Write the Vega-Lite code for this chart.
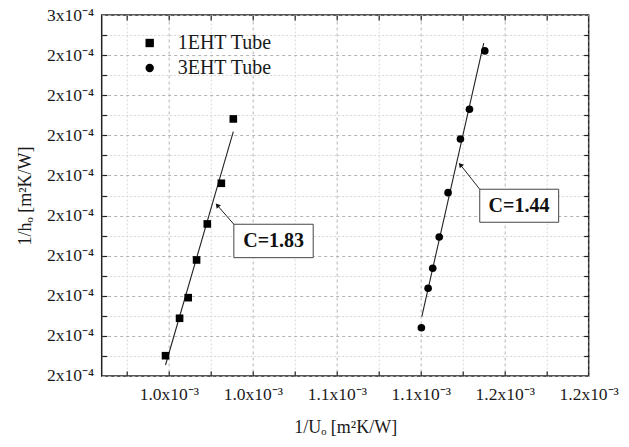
{
  "$schema": "https://vega.github.io/schema/vega-lite/v6.json",
  "width": 487,
  "height": 361,
  "autosize": {"type": "none"},
  "padding": {"left": 101.7, "top": 15, "right": 40, "bottom": 71},
  "background": "white",
  "config": {
    "view": {"stroke": "#222", "strokeWidth": 1.5},
    "axis": {"labelFont": "Liberation Serif", "titleFont": "Liberation Serif", "labelColor": "#1a1a1a", "titleColor": "#1a1a1a", "titleFontWeight": "normal"},
    "legend": {"labelFont": "Liberation Serif", "labelColor": "#1a1a1a"}
  },
  "datasets": {
    "points": [
      {"series": "1EHT Tube", "invU": 0.0010307, "invH": 0.00022409},
      {"series": "1EHT Tube", "invU": 0.0010250, "invH": 0.00020805},
      {"series": "1EHT Tube", "invU": 0.0010183, "invH": 0.00019791},
      {"series": "1EHT Tube", "invU": 0.0010132, "invH": 0.00018893},
      {"series": "1EHT Tube", "invU": 0.0010092, "invH": 0.00017953},
      {"series": "1EHT Tube", "invU": 0.0010051, "invH": 0.00017439},
      {"series": "1EHT Tube", "invU": 0.0009984, "invH": 0.00016506},
      {"series": "3EHT Tube", "invU": 0.0011505, "invH": 0.00024105},
      {"series": "3EHT Tube", "invU": 0.0011432, "invH": 0.00022651},
      {"series": "3EHT Tube", "invU": 0.0011389, "invH": 0.00021910},
      {"series": "3EHT Tube", "invU": 0.0011330, "invH": 0.00020571},
      {"series": "3EHT Tube", "invU": 0.0011288, "invH": 0.00019466},
      {"series": "3EHT Tube", "invU": 0.0011257, "invH": 0.00018686},
      {"series": "3EHT Tube", "invU": 0.0011235, "invH": 0.00018187},
      {"series": "3EHT Tube", "invU": 0.0011203, "invH": 0.00017204}
    ],
    "fits": [
      {"series": "1EHT Tube", "invU": 0.0009984, "invH": 0.00016274},
      {"series": "1EHT Tube", "invU": 0.0010307, "invH": 0.00022092},
      {"series": "3EHT Tube", "invU": 0.0011205, "invH": 0.00017479},
      {"series": "3EHT Tube", "invU": 0.0011500, "invH": 0.00024297}
    ],
    "callouts": [
      {"label": "C=1.83", "textU": 0.0010499, "textH": 0.00019367, "boxU": 0.00103095, "boxU2": 0.00106876, "boxH": 0.00018950, "boxH2": 0.00019783, "headU": 0.0010233, "headH": 0.00020242},
      {"label": "C=1.44", "textU": 0.0011668, "textH": 0.00020227, "boxU": 0.0011481, "boxU2": 0.0011857, "boxH": 0.00019833, "boxH2": 0.00020656, "headU": 0.0011391, "headH": 0.00021252}
    ]
  },
  "resolve": {"axis": {"x": "independent", "y": "independent"}},
  "layer": [
    {
      "data": {"name": "fits"},
      "mark": {"type": "line", "color": "#222", "strokeWidth": 1.1},
      "encoding": {
        "detail": {"field": "series"},
        "x": {"field": "invU", "type": "quantitative", "scale": {"domain": [0.000968, 0.0012], "nice": false, "zero": false},
          "axis": {"orient": "bottom", "values": [0.001, 0.00104, 0.00108, 0.00112, 0.00116, 0.0012], "grid": true, "gridColor": "#b4b4b4", "gridDash": [3, 3], "gridWidth": 1, "labels": false, "ticks": false, "domain": false, "title": null, "zindex": 0}},
        "y": {"field": "invH", "type": "quantitative", "scale": {"domain": [0.00016, 0.00025], "nice": false, "zero": false},
          "axis": {"orient": "left", "values": [0.00016, 0.00017, 0.00018, 0.00019, 0.0002, 0.00021, 0.00022, 0.00023, 0.00024, 0.00025], "grid": true, "gridColor": "#b4b4b4", "gridDash": [3, 3], "gridWidth": 1, "labels": false, "ticks": false, "domain": false, "title": null, "zindex": 0}}
      }
    },
    {
      "data": {"name": "points"},
      "mark": {"type": "point", "filled": true, "color": "black", "opacity": 1, "size": 58},
      "encoding": {
        "x": {"field": "invU", "type": "quantitative", "scale": {"domain": [0.000968, 0.0012], "nice": false, "zero": false},
          "axis": {"orient": "bottom", "values": [0.001, 0.00104, 0.00108, 0.00112, 0.00116, 0.0012], "grid": false, "ticks": false, "domain": false, "labelOverlap": false, "labelFlush": false, "labelPadding": 10, "labelFontSize": 17.5, "labelExpr": "format(datum.value * 1000, '.1f') + 'x10⁻³'", "title": "1/Uₒ [m²K/W]", "titleFontSize": 18, "titlePadding": 15}},
        "y": {"field": "invH", "type": "quantitative", "scale": {"domain": [0.00016, 0.00025], "nice": false, "zero": false},
          "axis": {"orient": "left", "values": [0.00016, 0.00017, 0.00018, 0.00019, 0.0002, 0.00021, 0.00022, 0.00023, 0.00024, 0.00025], "grid": false, "ticks": false, "domain": false, "labelOverlap": false, "labelFlush": false, "labelPadding": 8, "labelFontSize": 17.5, "labelExpr": "format(round(datum.value * 10000 + 0.000001), 'd') + 'x10⁻⁴'", "title": "1/hₒ [m²K/W]", "titleFontSize": 18, "titlePadding": 12}},
        "shape": {"field": "series", "type": "nominal", "scale": {"domain": ["1EHT Tube", "3EHT Tube"], "range": ["square", "circle"]},
          "legend": {"orient": "none", "legendX": 38, "legendY": 18, "title": null, "labelFontSize": 20, "symbolSize": 70, "symbolFillColor": "black", "symbolStrokeColor": "black", "rowPadding": 5, "labelOffset": 18}}
      }
    },
    {
      "data": {"name": "callouts"},
      "mark": {"type": "rect", "fill": "white", "stroke": "#444", "strokeWidth": 1},
      "encoding": {
        "x": {"field": "boxU", "type": "quantitative", "scale": {"domain": [0.000968, 0.0012], "nice": false, "zero": false},
          "axis": {"orient": "bottom", "values": [0.00098, 0.00102, 0.00106, 0.0011, 0.00114, 0.00118], "grid": true, "gridColor": "#d6d6d6", "gridDash": [2, 2], "gridWidth": 1, "labels": false, "ticks": false, "domain": false, "title": null, "zindex": 0}},
        "x2": {"field": "boxU2"},
        "y": {"field": "boxH", "type": "quantitative", "scale": {"domain": [0.00016, 0.00025], "nice": false, "zero": false},
          "axis": {"orient": "left", "values": [0.000165, 0.000175, 0.000185, 0.000195, 0.000205, 0.000215, 0.000225, 0.000235, 0.000245], "grid": true, "gridColor": "#d6d6d6", "gridDash": [2, 2], "gridWidth": 1, "labels": false, "ticks": false, "domain": false, "title": null, "zindex": 0}},
        "y2": {"field": "boxH2"}
      }
    },
    {
      "data": {"name": "callouts"},
      "mark": {"type": "text", "font": "Liberation Serif", "fontWeight": "bold", "fontSize": 20, "align": "center", "baseline": "middle", "color": "#111"},
      "encoding": {
        "text": {"field": "label"},
        "x": {"field": "textU", "type": "quantitative", "scale": {"domain": [0.000968, 0.0012], "nice": false, "zero": false},
          "axis": {"orient": "bottom", "values": [0.00098, 0.001, 0.00102, 0.00104, 0.00106, 0.00108, 0.0011, 0.00112, 0.00114, 0.00116, 0.00118], "grid": false, "labels": false, "ticks": true, "tickSize": -5, "tickColor": "#222", "tickWidth": 1.2, "domain": false, "title": null}},
        "y": {"field": "textH", "type": "quantitative", "scale": {"domain": [0.00016, 0.00025], "nice": false, "zero": false},
          "axis": {"orient": "left", "values": [0.000165, 0.00017, 0.000175, 0.00018, 0.000185, 0.00019, 0.000195, 0.0002, 0.000205, 0.00021, 0.000215, 0.00022, 0.000225, 0.00023, 0.000235, 0.00024, 0.000245], "grid": false, "labels": false, "ticks": true, "tickSize": -5, "tickColor": "#222", "tickWidth": 1.2, "domain": false, "title": null}}
      }
    },
    {
      "data": {"name": "callouts"},
      "mark": {"type": "rule", "color": "#222", "strokeWidth": 1},
      "encoding": {
        "x": {"field": "boxU", "type": "quantitative", "scale": {"domain": [0.000968, 0.0012], "nice": false, "zero": false},
          "axis": {"orient": "top", "values": [0.00098, 0.001, 0.00102, 0.00104, 0.00106, 0.00108, 0.0011, 0.00112, 0.00114, 0.00116, 0.00118], "grid": false, "labels": false, "ticks": true, "tickSize": -5, "tickColor": "#222", "tickWidth": 1.2, "domain": false, "title": null}},
        "y": {"field": "boxH2", "type": "quantitative", "scale": {"domain": [0.00016, 0.00025], "nice": false, "zero": false},
          "axis": {"orient": "right", "values": [0.000165, 0.00017, 0.000175, 0.00018, 0.000185, 0.00019, 0.000195, 0.0002, 0.000205, 0.00021, 0.000215, 0.00022, 0.000225, 0.00023, 0.000235, 0.00024, 0.000245], "grid": false, "labels": false, "ticks": true, "tickSize": -5, "tickColor": "#222", "tickWidth": 1.2, "domain": false, "title": null}},
        "x2": {"field": "headU"},
        "y2": {"field": "headH"}
      }
    },
    {
      "data": {"name": "callouts"},
      "mark": {"type": "point", "shape": "triangle", "filled": true, "color": "#111", "opacity": 1, "size": 30, "angle": 320},
      "encoding": {
        "x": {"field": "headU", "type": "quantitative", "scale": {"domain": [0.000968, 0.0012], "nice": false, "zero": false}, "axis": null},
        "y": {"field": "headH", "type": "quantitative", "scale": {"domain": [0.00016, 0.00025], "nice": false, "zero": false}, "axis": null}
      }
    }
  ]
}
